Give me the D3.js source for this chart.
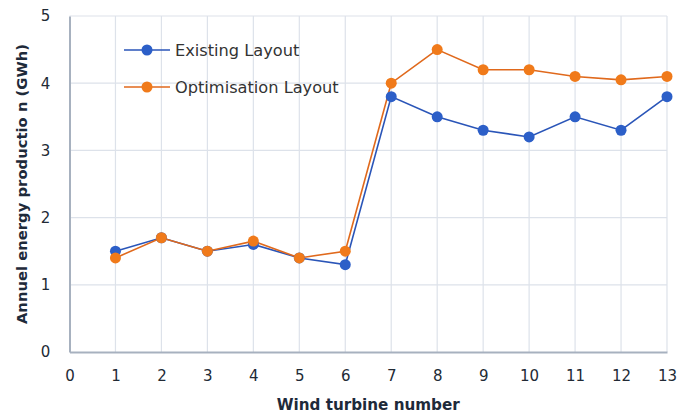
<!DOCTYPE html>
<html>
<head>
<meta charset="utf-8">
<script src="https://cdn.jsdelivr.net/npm/d3@7"></script>
<style>
  html, body { margin: 0; padding: 0; background: #fff; }
  svg { display: block; }
</style>
</head>
<body>
<script>
const turbines = [1,2,3,4,5,6,7,8,9,10,11,12,13];
const existingLayout = [1.5,1.7,1.5,1.6,1.4,1.3,3.8,3.5,3.3,3.2,3.5,3.3,3.8];
const optimisationLayout = [1.4,1.7,1.5,1.65,1.4,1.5,4.0,4.5,4.2,4.2,4.1,4.05,4.1];
const xTicks = [0,1,2,3,4,5,6,7,8,9,10,11,12,13];
const yTicks = [0,1,2,3,4,5];
const seriesNames = ["Existing Layout", "Optimisation Layout"];
const seriesColors = ["#2c5fc8", "#f07a1a"];
const lineColors = ["#2a55b8", "#e0691c"];

const W = 677, H = 415;
const margin = {left: 69.5, right: 10, top: 16, bottom: 63};
const svg = d3.select("body").append("svg").attr("width", W).attr("height", H);

const x = d3.scaleLinear().domain([0, 13]).range([margin.left, W - margin.right]);
const y = d3.scaleLinear().domain([0, 5]).range([H - margin.bottom, margin.top]);

const font = "'DejaVu Sans', Verdana, sans-serif";

// grid
svg.append("g").selectAll("line.v").data(xTicks.filter(d => d > 0)).join("line")
  .attr("x1", d => x(d)).attr("x2", d => x(d))
  .attr("y1", y(0)).attr("y2", y(5))
  .attr("stroke", "#dde2ea").attr("stroke-width", 1.2);
svg.append("g").selectAll("line.h").data(yTicks.filter(d => d > 0)).join("line")
  .attr("x1", x(0)).attr("x2", x(13))
  .attr("y1", d => y(d)).attr("y2", d => y(d))
  .attr("stroke", "#dde2ea").attr("stroke-width", 1.2);

// axes
const xAxis = d3.axisBottom(x).tickValues(xTicks).tickSize(0).tickPadding(18).tickFormat(d3.format("d"));
const yAxis = d3.axisLeft(y).tickValues(yTicks).tickSize(0).tickPadding(18).tickFormat(d3.format("d"));
const gx = svg.append("g").attr("transform", `translate(0,${y(0)})`).call(xAxis);
const gy = svg.append("g").attr("transform", `translate(${x(0)},0)`).call(yAxis);
[gx, gy].forEach(g => {
  g.select(".domain").attr("stroke", "#a7b1bf").attr("stroke-width", 2);
  g.selectAll("text").attr("font-family", font).attr("font-size", 15).attr("fill", "#222a35");
});
gy.selectAll("text").attr("text-anchor", "middle").attr("dx", -6);

// axis titles
svg.append("text")
  .attr("x", (x(0) + x(13)) / 2).attr("y", 410)
  .attr("text-anchor", "middle")
  .attr("font-family", font).attr("font-size", 15.2).attr("font-weight", "bold")
  .attr("fill", "#1e2a3a")
  .text("Wind turbine number");
svg.append("text")
  .attr("transform", `translate(27,${(y(0) + y(5)) / 2}) rotate(-90)`)
  .attr("text-anchor", "middle")
  .attr("font-family", font).attr("font-size", 14.8).attr("font-weight", "bold")
  .attr("fill", "#1e2a3a")
  .text("Annuel  energy productio n  (GWh)");

// series
const allSeries = [existingLayout, optimisationLayout];
const line = d3.line().x((d, i) => x(turbines[i])).y(d => y(d));
allSeries.forEach((vals, s) => {
  svg.append("path").datum(vals)
    .attr("d", line).attr("fill", "none")
    .attr("stroke", lineColors[s]).attr("stroke-width", 1.6);
});
allSeries.forEach((vals, s) => {
  svg.append("g").selectAll("circle").data(vals).join("circle")
    .attr("cx", (d, i) => x(turbines[i])).attr("cy", d => y(d))
    .attr("r", 5.5).attr("fill", seriesColors[s]);
});

// legend
const legendY = [50, 87];
seriesNames.forEach((name, s) => {
  const g = svg.append("g").attr("transform", `translate(124,${legendY[s]})`);
  g.append("line").attr("x1", 0).attr("x2", 46).attr("y1", 0).attr("y2", 0)
    .attr("stroke", lineColors[s]).attr("stroke-width", 1.6);
  g.append("circle").attr("cx", 23).attr("cy", 0).attr("r", 5.5).attr("fill", seriesColors[s]);
  g.append("text").attr("x", 51).attr("y", 0).attr("dy", "0.35em")
    .attr("font-family", font).attr("font-size", 16.2).attr("fill", "#333")
    .text(name);
});
</script>
</body>
</html>
